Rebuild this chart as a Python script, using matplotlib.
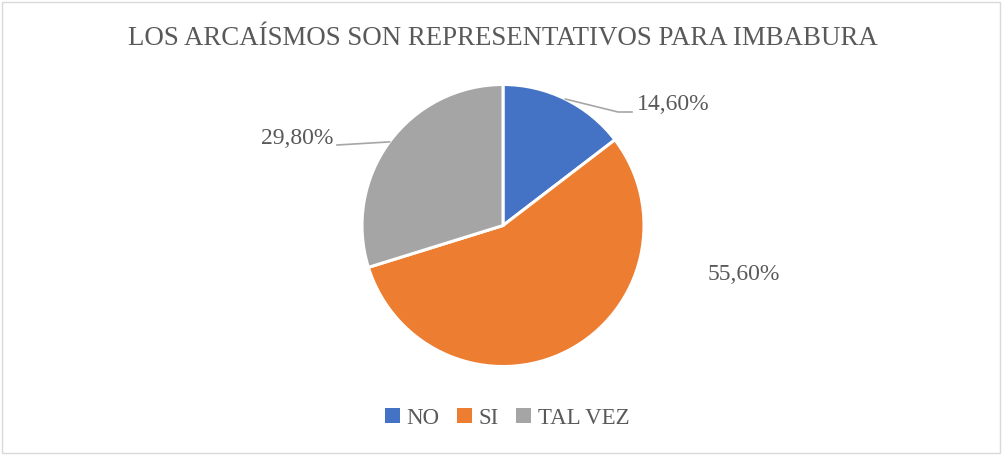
import numpy as np
import matplotlib
matplotlib.use("Agg")
import matplotlib.pyplot as plt
from matplotlib.patches import Patch, Rectangle

# Data
categories = ["NO", "SI", "TAL VEZ"]
values = [14.60, 55.60, 29.80]
labels = ["14,60%", "55,60%", "29,80%"]
colors = ["#4472C4", "#ED7D31", "#A5A5A5"]
title = "LOS ARCAÍSMOS SON REPRESENTATIVOS PARA IMBABURA"

W, H = 1003, 456
txt = "#595959"
plt.rcParams["font.family"] = ["Liberation Serif", "DejaVu Serif"]

fig = plt.figure(figsize=(W / 100, H / 100), dpi=100)
ax = fig.add_axes([0, 0, 1, 1])

cx, cy, r = 503, H - 226.5, 141
wedges, _ = ax.pie(values, colors=colors, startangle=90, counterclock=False,
                   center=(cx, cy), radius=r, frame=True,
                   wedgeprops=dict(edgecolor="white", linewidth=2.2))
ax.set_xlim(0, W)
ax.set_ylim(0, H)
ax.set_aspect("equal")
ax.axis("off")

# border
fig.patches.append(Rectangle((2 / W, 2 / H), (W - 5) / W, (H - 5) / H,
                             transform=fig.transFigure, fill=False,
                             edgecolor="#D9D9D9", linewidth=1))

ax.text(W / 2 + 1, H - 38, title, ha="center", va="center", fontsize=19.4, color=txt)


def edge_point(w):
    a = np.deg2rad((w.theta1 + w.theta2) / 2)
    return cx + r * np.cos(a), cy + r * np.sin(a)


# NO label with leader
x0, y0 = edge_point(wedges[0])
ax.plot([x0, 618, 632], [y0, H - 113, H - 113], color="#A6A6A6", lw=1.2)
ax.text(637, H - 105, labels[0], ha="left", va="center", fontsize=17, color=txt)

# SI label
ax.text(708, H - 274, labels[1], ha="left", va="center", fontsize=17, color=txt)

# TAL VEZ label with leader
x2, y2 = edge_point(wedges[2])
ax.plot([x2, 337], [y2, H - 146], color="#A6A6A6", lw=1.2)
ax.text(333, H - 138, labels[2], ha="right", va="center", fontsize=17, color=txt)

handles = [Patch(facecolor=c, edgecolor="none") for c in colors]
ax.legend(handles, categories, loc="center", bbox_to_anchor=(507, H - 419),
          bbox_transform=ax.transData, ncol=3, frameon=False, fontsize=16.5,
          handlelength=0.65, handleheight=0.65, handletextpad=0.3,
          columnspacing=0.75, labelcolor=txt)

fig.savefig("out.png", dpi=100)
